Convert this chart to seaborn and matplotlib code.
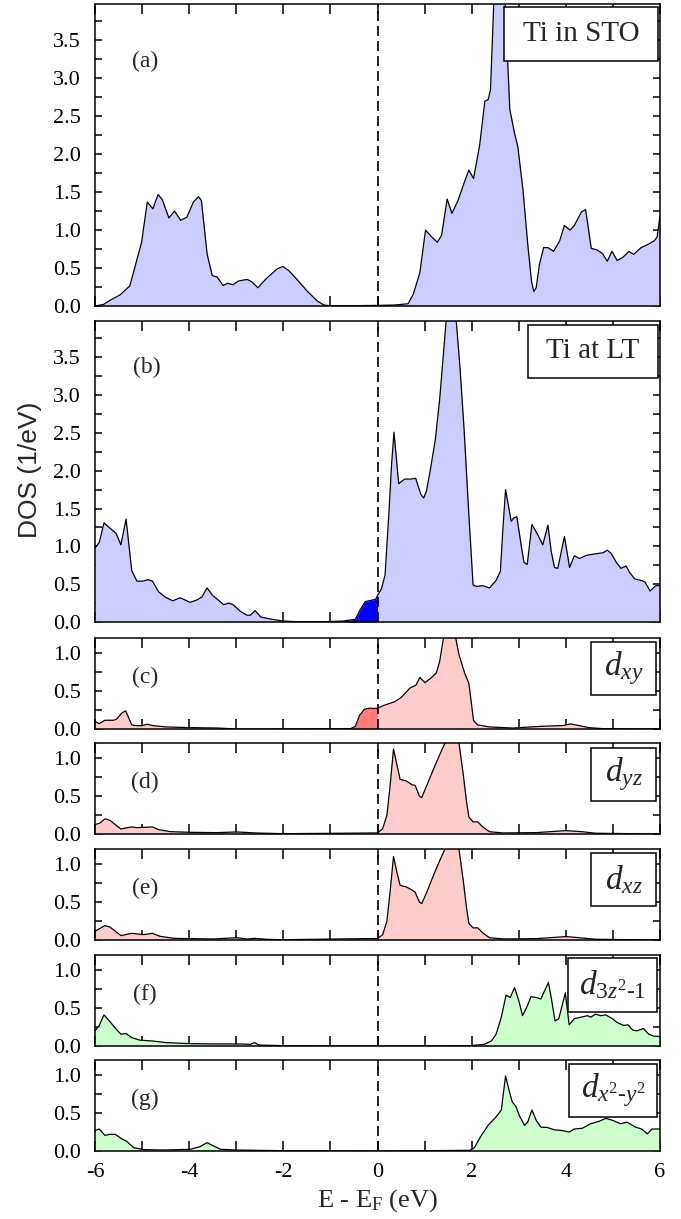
import numpy as np
import matplotlib
matplotlib.use("Agg")
import matplotlib.pyplot as plt
import seaborn as sns
from matplotlib.patches import Rectangle
from matplotlib.ticker import MultipleLocator, FormatStrFormatter

sns.set_theme(style="ticks")
SERIF = ["Liberation Serif", "DejaVu Serif"]
plt.rcParams["font.family"] = SERIF
plt.rcParams["mathtext.fontset"] = "custom"
plt.rcParams["mathtext.rm"] = "Liberation Serif"
plt.rcParams["mathtext.it"] = "Liberation Serif:italic"
plt.rcParams["mathtext.default"] = "it"

# ---------------- data: Ti projected DOS (energy in eV, DOS in 1/eV) ----------------
E_sto = [-6.0, -5.82, -5.68, -5.47, -5.26, -5.01, -4.89, -4.77, -4.66, -4.57, -4.43,
         -4.31, -4.18, -4.05, -3.91, -3.80, -3.74, -3.62, -3.51, -3.41, -3.28, -3.18,
         -3.07, -2.95, -2.77, -2.67, -2.54, -2.38, -2.13, -2.01, -1.89, -1.71, -1.50,
         -1.28, -1.14, -1.0, -0.5, 0.0, 0.37, 0.65, 0.76, 0.90, 1.02, 1.15, 1.27, 1.36,
         1.48, 1.58, 1.71, 1.85, 1.94, 2.04, 2.17, 2.28, 2.35, 2.40, 2.47, 2.59, 2.71,
         2.81, 2.91, 2.98, 3.09, 3.19, 3.27, 3.32, 3.37, 3.44, 3.53, 3.62, 3.74, 3.87,
         3.97, 4.09, 4.18, 4.33, 4.42, 4.54, 4.66, 4.78, 4.88, 4.98, 5.09, 5.21, 5.34,
         5.44, 5.60, 5.74, 5.88, 5.94, 6.0]
dos_sto = [0.0, 0.02, 0.075, 0.146, 0.265, 0.84, 1.37, 1.28, 1.47, 1.40, 1.16,
           1.25, 1.13, 1.17, 1.37, 1.44, 1.39, 0.69, 0.40, 0.385, 0.27, 0.30,
           0.28, 0.33, 0.35, 0.32, 0.24, 0.35, 0.49, 0.52, 0.47, 0.35, 0.20,
           0.066, 0.013, 0.004, 0.004, 0.008, 0.013, 0.03, 0.155, 0.44, 1.0, 0.91, 0.84, 0.93,
           1.41, 1.22, 1.39, 1.64, 1.79, 1.68, 2.12, 2.70, 2.72, 2.85, 4.0, 5.7, 4.0,
           2.59, 2.28, 2.10, 1.53, 0.82, 0.33, 0.19, 0.24, 0.55, 0.77, 0.77, 0.72, 0.86,
           1.06, 1.0, 1.06, 1.24, 1.27, 0.76, 0.74, 0.69, 0.59, 0.72, 0.60, 0.64, 0.72,
           0.68, 0.77, 0.81, 0.86, 0.91, 1.19]

E_lt = [-6.0, -5.91, -5.81, -5.68, -5.55, -5.45, -5.34, -5.22, -5.11, -4.99, -4.87,
        -4.78, -4.65, -4.51, -4.35, -4.19, -3.98, -3.84, -3.73, -3.62, -3.50, -3.38,
        -3.27, -3.16, -3.07, -2.91, -2.77, -2.70, -2.60, -2.48, -2.28, -2.0, -1.71,
        -1.14, -0.72, -0.47, -0.36, -0.26, -0.11, -0.04, 0.0, 0.085, 0.16, 0.24, 0.30,
        0.35, 0.45, 0.58, 0.71, 0.81, 0.92, 0.98, 1.04, 1.13, 1.23, 1.32, 1.39, 1.46,
        1.565, 1.67, 1.75, 1.84, 1.94, 2.03, 2.10, 2.24, 2.38, 2.52, 2.61, 2.66, 2.72,
        2.84, 2.90, 2.96, 3.05, 3.11, 3.18, 3.28, 3.39, 3.51, 3.62, 3.69, 3.76, 3.83,
        3.97, 4.08, 4.18, 4.29, 4.43, 4.61, 4.79, 4.88, 4.96, 5.07, 5.17, 5.28, 5.35,
        5.46, 5.60, 5.68, 5.79, 5.91, 6.0]
dos_lt = [0.98, 1.05, 1.31, 1.24, 1.17, 1.02, 1.36, 0.68, 0.54, 0.54, 0.56,
          0.54, 0.40, 0.33, 0.28, 0.32, 0.26, 0.29, 0.33, 0.45, 0.35, 0.29,
          0.23, 0.25, 0.23, 0.14, 0.09, 0.09, 0.15, 0.067, 0.04, 0.013, 0.004,
          0.004, 0.013, 0.036, 0.17, 0.27, 0.29, 0.30, 0.35, 0.44, 0.62, 1.42, 2.09,
          2.51, 1.83, 1.89, 1.89, 1.90, 1.69, 1.64, 1.73, 2.04, 2.42, 2.94, 3.47, 4.0,
          4.8, 4.0, 3.38, 2.54, 1.42, 0.49, 0.47, 0.48, 0.45, 0.55, 0.67, 1.20, 1.75,
          1.33, 1.38, 1.39, 1.02, 0.79, 0.76, 1.29, 1.17, 1.02, 1.28, 0.93, 0.72, 0.71,
          1.13, 0.72, 0.875, 0.84, 0.88, 0.90, 0.915, 0.95, 0.91, 0.79, 0.71, 0.74, 0.66,
          0.57, 0.55, 0.53, 0.41, 0.48, 0.48]

E_xy = [-6.0, -5.91, -5.79, -5.61, -5.54, -5.43, -5.35, -5.29, -5.22, -5.11, -5.0,
        -4.89, -4.76, -4.48, -3.98, -3.41, -2.99, -0.57, -0.47, -0.38, -0.28, -0.16,
        -0.08, 0.0, 0.13, 0.27, 0.37, 0.51, 0.69, 0.82, 0.90, 1.01, 1.15, 1.25, 1.32,
        1.52, 1.73, 1.85, 1.94, 1.99, 2.04, 2.13, 2.38, 2.87, 3.5, 3.93, 4.1, 4.21,
        4.49, 4.77, 6.0]
dos_xy = [0.10, 0.07, 0.115, 0.115, 0.13, 0.21, 0.24, 0.155, 0.053, 0.044, 0.044,
          0.062, 0.044, 0.027, 0.018, 0.013, 0.0, 0.004, 0.036, 0.18, 0.26, 0.275,
          0.27, 0.275, 0.31, 0.34, 0.36, 0.42, 0.54, 0.58, 0.68, 0.61, 0.68, 0.74, 0.89,
          1.65, 0.98, 0.74, 0.60, 0.36, 0.11, 0.054, 0.027, 0.013, 0.036, 0.045, 0.067, 0.054,
          0.018, 0.005, 0.0]

E_yz = [-6.0, -5.89, -5.79, -5.68, -5.57, -5.45, -5.34, -5.22, -5.11, -4.94, -4.78,
        -4.65, -4.40, -3.98, -3.41, -2.99, -2.56, -2.0, 0.0, 0.11, 0.20, 0.27, 0.34,
        0.41, 0.48, 0.61, 0.73, 0.80, 0.89, 0.94, 1.04, 1.22, 1.36, 1.62, 1.73, 1.82,
        1.89, 1.94, 2.03, 2.13, 2.24, 2.38, 2.66, 3.37, 4.0, 4.35, 4.63, 6.0]
dos_yz = [0.124, 0.146, 0.20, 0.18, 0.124, 0.066, 0.08, 0.093, 0.084, 0.088, 0.093,
          0.058, 0.031, 0.022, 0.018, 0.027, 0.013, 0.004, 0.014, 0.07, 0.25, 0.65, 1.12,
          0.92, 0.72, 0.70, 0.65, 0.64, 0.50, 0.48, 0.63, 0.90, 1.10, 1.45, 1.2, 0.79,
          0.43, 0.225, 0.16, 0.16, 0.09, 0.03, 0.014, 0.018, 0.045, 0.03, 0.01, 0.0]

E_xz = [-6.0, -5.79, -5.68, -5.45, -5.22, -4.97, -4.78, -4.62, -4.33, -3.98, -3.48,
        -2.99, -2.77, -2.60, -2.35, -2.0, 0.0, 0.11, 0.20, 0.27, 0.34, 0.41, 0.48,
        0.61, 0.73, 0.80, 0.89, 0.94, 1.04, 1.22, 1.36, 1.62, 1.73, 1.82, 1.89, 1.94,
        2.03, 2.13, 2.24, 2.38, 2.66, 3.37, 4.0, 4.2, 4.63, 6.0]
dos_xz = [0.115, 0.19, 0.17, 0.058, 0.088, 0.071, 0.088, 0.049, 0.022, 0.018, 0.013,
          0.031, 0.013, 0.022, 0.009, 0.004, 0.02, 0.07, 0.25, 0.65, 1.1, 0.90, 0.72,
          0.70, 0.66, 0.63, 0.50, 0.48, 0.62, 0.90, 1.10, 1.45, 1.2, 0.79, 0.43, 0.22,
          0.16, 0.16, 0.09, 0.03, 0.014, 0.018, 0.045, 0.035, 0.01, 0.0]

E_z2 = [-6.0, -5.91, -5.81, -5.68, -5.55, -5.45, -5.34, -5.22, -5.04, -4.79, -4.48,
        -3.98, -3.41, -2.91, -2.70, -2.61, -2.52, -2.0, 0.0, 1.96, 2.27, 2.42, 2.52,
        2.63, 2.73, 2.82, 2.91, 3.0, 3.08, 3.17, 3.26, 3.37, 3.47, 3.58, 3.63, 3.70,
        3.77, 3.85, 3.92, 3.99, 4.07, 4.18, 4.32, 4.46, 4.53, 4.63, 4.74, 4.85, 4.99,
        5.09, 5.23, 5.32, 5.42, 5.51, 5.65, 5.76, 5.87, 6.0]
dos_z2 = [0.20, 0.27, 0.41, 0.32, 0.22, 0.156, 0.164, 0.11, 0.076, 0.067, 0.044,
          0.031, 0.027, 0.027, 0.022, 0.044, 0.013, 0.004, 0.0, 0.004, 0.022, 0.067, 0.156,
          0.38, 0.67, 0.64, 0.77, 0.60, 0.40, 0.51, 0.65, 0.64, 0.62, 0.77, 0.84, 0.60,
          0.33, 0.36, 0.53, 0.70, 0.28, 0.36, 0.38, 0.40, 0.38, 0.42, 0.40, 0.41, 0.36,
          0.31, 0.27, 0.28, 0.21, 0.20, 0.23, 0.156, 0.13, 0.125]

E_x2y2 = [-6.0, -5.91, -5.79, -5.68, -5.57, -5.43, -5.33, -5.18, -4.97, -4.55, -3.98,
          -3.77, -3.62, -3.48, -3.33, -2.99, -2.0, 0.0, 1.96, 2.06, 2.20, 2.35, 2.52,
          2.63, 2.72, 2.79, 2.86, 2.94, 3.01, 3.12, 3.19, 3.28, 3.37, 3.47, 3.61, 3.75,
          3.92, 4.07, 4.18, 4.35, 4.53, 4.70, 4.85, 4.99, 5.16, 5.30, 5.48, 5.61, 5.73,
          5.83, 6.0]
dos_x2y2 = [0.27, 0.29, 0.206, 0.22, 0.22, 0.16, 0.13, 0.044, 0.018, 0.013, 0.022,
            0.057, 0.11, 0.066, 0.022, 0.013, 0.004, 0.0, 0.009, 0.045, 0.20, 0.34, 0.45,
            0.54, 0.99, 0.81, 0.65, 0.585, 0.47, 0.34, 0.38, 0.54, 0.405, 0.315, 0.31, 0.28,
            0.27, 0.25, 0.29, 0.30, 0.36, 0.39, 0.43, 0.405, 0.36, 0.38, 0.315, 0.29, 0.225,
            0.29, 0.29]

# occupied in-gap states (shaded darker): energy window in eV
occ_window = (-0.75, 0.0)

panel_tags = ["(a)", "(b)", "(c)", "(d)", "(e)", "(f)", "(g)"]
panel_names = ["Ti in STO", "Ti at LT", r"$d_{xy}$", r"$d_{yz}$", r"$d_{xz}$",
               r"$d_{3z^{2}\text{-}1}$", r"$d_{x^{2}\text{-}y^{2}}$"]
x_ticks = [-6, -4, -2, 0, 2, 4, 6]

# ---------------- styling / layout ----------------
BLUE, BLUE_OCC = "#ccccff", "#0000ff"
RED, RED_OCC = "#ffcccc", "#ff7b7b"
GREEN = "#ccffcc"

series = [
    (E_sto, dos_sto, BLUE, None, 3.98),
    (E_lt, dos_lt, BLUE, BLUE_OCC, 3.98),
    (E_xy, dos_xy, RED, RED_OCC, 1.2),
    (E_yz, dos_yz, RED, None, 1.2),
    (E_xz, dos_xz, RED, None, 1.2),
    (E_z2, dos_z2, GREEN, None, 1.2),
    (E_x2y2, dos_x2y2, GREEN, None, 1.2),
]

W, H = 681, 1219
rows_px = [(4, 306), (321, 622), (638, 729), (743, 834), (849, 940), (955, 1046), (1060, 1151)]
x0_px, x1_px = 95, 660
# label boxes (axes fractions: x0, x1, y0, y1)
boxes = [(0.724, 0.9965, 0.811, 0.990), (0.766, 0.9965, 0.811, 0.987),
         (0.878, 0.993, 0.374, 0.956), (0.878, 0.993, 0.363, 0.945),
         (0.878, 0.993, 0.374, 0.956), (0.837, 0.995, 0.374, 0.967),
         (0.839, 0.995, 0.374, 0.956)]
tag_pos = [(0.088, 0.81), (0.092, 0.845)] + [(0.088, 0.565)] * 5

fig = plt.figure(figsize=(W / 100, H / 100), dpi=100)
axes = []
for i, ((top, bot), (E, dos, fc, occ, ymax)) in enumerate(zip(rows_px, series)):
    ax = fig.add_axes([x0_px / W, 1 - bot / H, (x1_px - x0_px) / W, (bot - top) / H])
    axes.append(ax)
    E = np.asarray(E, dtype=float)
    dos = np.asarray(dos, dtype=float)
    ax.fill_between(E, 0, dos, color=fc, lw=0, zorder=1)
    if occ is not None:
        mask = (E >= occ_window[0]) & (E <= occ_window[1])
        ax.fill_between(E, 0, dos, where=mask, color=occ, lw=0, zorder=1.5)
    sns.lineplot(x=E, y=dos, ax=ax, color="black", lw=0.9, estimator=None,
                 sort=False, zorder=2)
    ax.axvline(0, color="black", lw=1.2, ls=(0, (6, 3)), zorder=3)

    ax.set_xlim(-6, 6)
    ax.set_ylim(0, ymax)
    ax.xaxis.set_major_locator(MultipleLocator(2))
    ax.xaxis.set_minor_locator(MultipleLocator(1))
    ax.yaxis.set_major_locator(MultipleLocator(0.5))
    ax.yaxis.set_minor_locator(MultipleLocator(0.25))
    ax.yaxis.set_major_formatter(FormatStrFormatter("%.1f"))
    ax.tick_params(axis="both", which="both", direction="in", top=True, right=True,
                   width=1.1, labelsize=16, colors="black",
                   labelfontfamily="Liberation Serif")
    ax.tick_params(axis="x", which="both", length=7, pad=8.5)
    ax.tick_params(axis="y", which="both", length=5, pad=10)
    if i < len(series) - 1:
        ax.tick_params(axis="x", labelbottom=False)
    else:
        ax.set_xticks(x_ticks)
        ax.set_xticklabels([f"{t:d}" for t in x_ticks])
    for s in ax.spines.values():
        s.set_linewidth(1.1)
        s.set_color("black")
    ax.set_xlabel("")
    ax.set_ylabel("")

    bx0, bx1, by0, by1 = boxes[i]
    ax.add_patch(Rectangle((bx0, by0), bx1 - bx0, by1 - by0, transform=ax.transAxes,
                           facecolor="white", edgecolor="black", lw=1.1, zorder=6,
                           clip_on=False))
    ax.text((bx0 + bx1) / 2, (by0 + by1) / 2, panel_names[i], transform=ax.transAxes,
            ha="center", va="center", fontsize=21 if i < 2 else 24, zorder=7)
    tx, ty = tag_pos[i]
    ax.text(tx, ty, panel_tags[i], transform=ax.transAxes, ha="center", va="center",
            fontsize=17, zorder=7)

axes[-1].set_xlabel(r"E - E$_\mathrm{F}$ (eV)", fontsize=19, labelpad=4)
fig.text(30 / W, 1 - 470 / H, "DOS (1/eV)", rotation=90, ha="center", va="center",
         fontsize=19, family=["Liberation Sans", "DejaVu Sans"])

fig.savefig("out.png", dpi=100, facecolor="white")
